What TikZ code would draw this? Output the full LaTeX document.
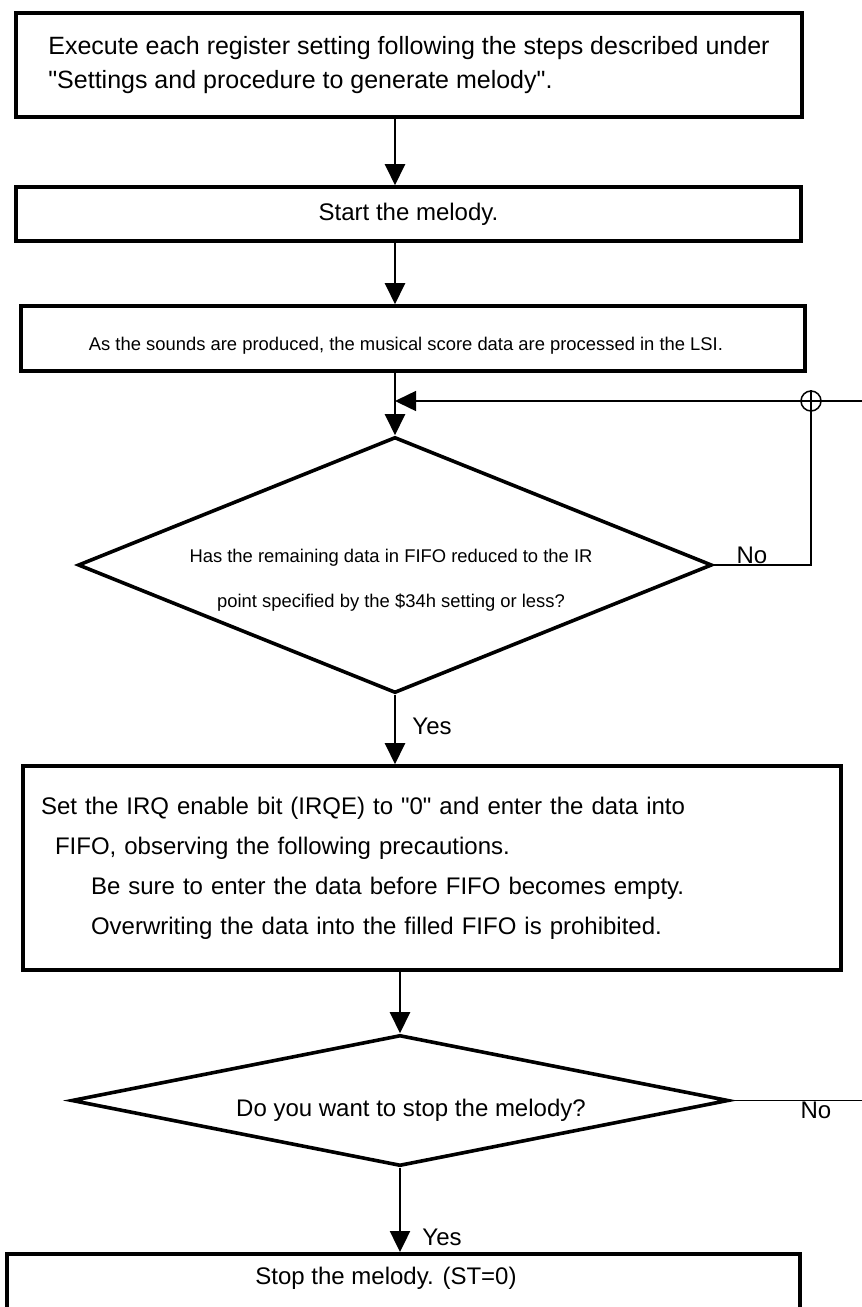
\documentclass[tikz,border=0pt]{standalone}
\usepackage{fontspec}
\setmainfont{Liberation Sans}
\usepackage{tikz}
\usetikzlibrary{shapes.geometric, arrows.meta}
\tikzstyle{arrow} = [line width=1.2pt,-{Triangle[length=10.5pt,width=10pt]}]
\tikzstyle{thinline} = [line width=0.75pt]

\begin{document}
\begin{tikzpicture}[
		x=0.5pt, y=-0.5pt,
		box/.style= {draw, line width=1.8pt, rectangle, inner sep=0pt},
		decision/.style= {draw, line width=1.8pt, diamond, inner sep=0pt},
		big/.style= {font = {\fontsize{12}{20}\selectfont}},
		small/.style= {font = {\fontsize{9.2}{22.5}\selectfont}}
	]
	\useasboundingbox (0,0) rectangle (862,1307);
	\clip (0,0) rectangle (862,1307);

	\node (setup) [box, minimum width=393pt, minimum height=52.25pt, align=left, font={\fontsize{12.5}{17}\selectfont}] at (409,65) {Execute each register setting following the steps described under\\ \textquotedbl Settings and procedure to generate melody\textquotedbl.};
	\node (start) [box, big, minimum width=392.5pt, minimum height=27pt] at (408.5,214) {Start the melody.};
	\node (lsi) [box, minimum width=392pt, minimum height=32.5pt] at (413,338.5) {};
	\node (lsitext) [small] at (406,346) {As the sounds are produced, the musical score data are processed in the LSI.};

	\node (fifo) [decision, minimum width=317pt, minimum height=128pt] at (395,565) {};
	\node (fifotext) [small, align=center] at (391,580) {Has the remaining data in FIFO reduced to the IR\\ point specified by the \$34h setting or less?};

	\node (enter) [box, big, minimum width=409pt, minimum height=102pt, text width=391pt, inner xsep=9pt, align=left] at (432,868) {Set the IRQ enable bit (IRQE) to \textquotedbl 0\textquotedbl{} and enter the data into\\ \hspace*{7pt}FIFO, observing the following precautions.\\ \hspace*{25pt}Be sure to enter the data before FIFO becomes empty.\\ \hspace*{25pt}Overwriting the data into the filled FIFO is prohibited.};

	\node (stopq) [decision, minimum width=328.5pt, minimum height=65.5pt] at (400,1100.5) {};
	\node (stopqtext) [big] at (411,1110) {Do you want to stop the melody?};

	\node (stop) [box, minimum width=396.5pt, minimum height=50pt, anchor=north] at (403.5,1252) {};
	\node (stoptext) [big] at (386,1278) {Stop the melody. (ST=0)};

	% labels
	\node (no1) [big] at (752,555) {No};
	\node (no2) [big] at (816,1110) {No};
	\node (yes1) [big] at (432,726) {Yes};
	\node (yes2) [big] at (442,1237) {Yes};

	% main flow
	\draw [arrow] (setup.south -| fifo.north) -- (start.north -| fifo.north);
	\draw [arrow] (start.south -| fifo.north) -- (lsi.north -| fifo.north);
	\draw [arrow] (lsi.south -| fifo.north) -- (fifo.north);
	\draw [arrow] (fifo.south) -- (enter.north -| fifo.south);
	\draw [arrow] (enter.south -| stopq.north) -- (stopq.north);
	\draw [arrow] (stopq.south) -- (stop.north -| stopq.south);

	% loop back
	\node (cross) [draw, thinline, circle, minimum size=10pt, inner sep=0pt] at (811,401) {};
	\coordinate (join) at (fifo.north |- cross);
	\coordinate (rimtop) at (862,401);
	\coordinate (rimbot) at (862,1100.5);
	\draw [arrow, thinline] (rimtop) -- (join);
	\draw [thinline] (fifo.east) -- (fifo.east -| cross) -- (cross.north);
	\draw [thinline] (stopq.east) -- (rimbot);
\end{tikzpicture}
\end{document}
